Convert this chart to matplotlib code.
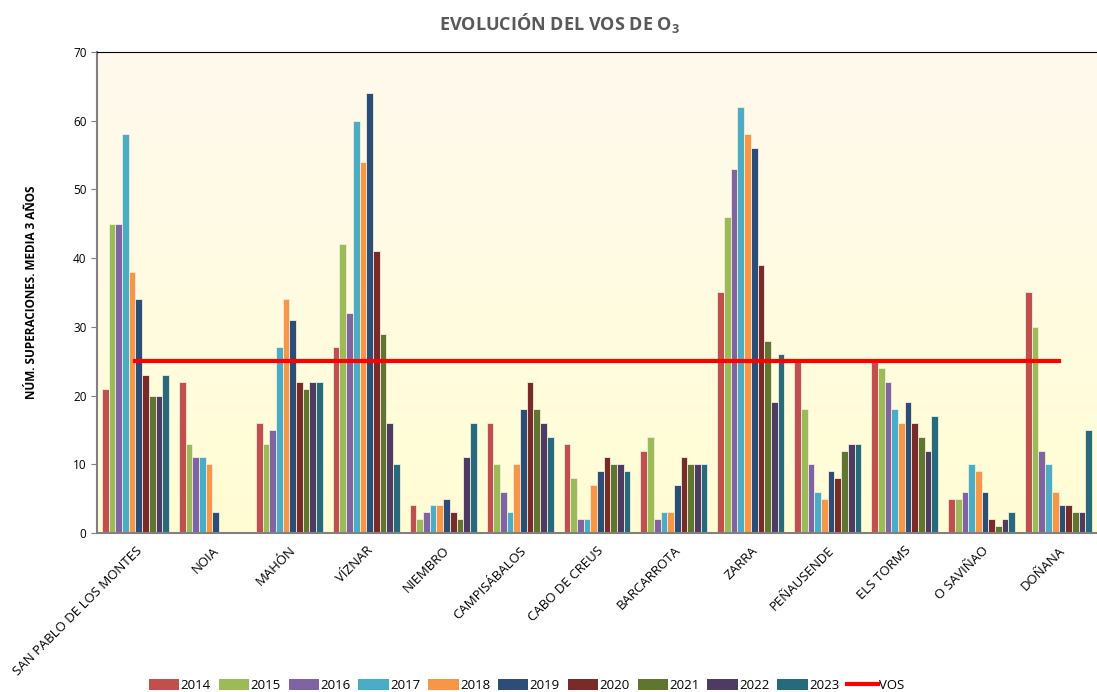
import numpy as np
import matplotlib
matplotlib.use("Agg")
import matplotlib.pyplot as plt
from matplotlib.lines import Line2D
from matplotlib.patches import Patch

plt.rcParams["font.family"] = ["Open Sans", "DejaVu Sans"]
plt.rcParams["mathtext.default"] = "regular"

# ── DATA ──────────────────────────────────────────────────────
stations = ["SAN PABLO DE LOS MONTES", "NOIA", "MAHÓN", "VÍZNAR", "NIEMBRO",
            "CAMPISÁBALOS", "CABO DE CREUS", "BARCARROTA", "ZARRA",
            "PEÑAUSENDE", "ELS TORMS", "O SAVIÑAO", "DOÑANA"]
years = ["2014", "2015", "2016", "2017", "2018",
         "2019", "2020", "2021", "2022", "2023"]

v2014 = [21, 22, 16, 27, 4, 16, 13, 12, 35, 25, 25, 5, 35]
v2015 = [45, 13, 13, 42, 2, 10, 8, 14, 46, 18, 24, 5, 30]
v2016 = [45, 11, 15, 32, 3, 6, 2, 2, 53, 10, 22, 6, 12]
v2017 = [58, 11, 27, 60, 4, 3, 2, 3, 62, 6, 18, 10, 10]
v2018 = [38, 10, 34, 54, 4, 10, 7, 3, 58, 5, 16, 9, 6]
v2019 = [34, 3, 31, 64, 5, 18, 9, 7, 56, 9, 19, 6, 4]
v2020 = [23, 0, 22, 41, 3, 22, 11, 11, 39, 8, 16, 2, 4]
v2021 = [20, 0, 21, 29, 2, 18, 10, 10, 28, 12, 14, 1, 3]
v2022 = [20, 0, 22, 16, 11, 16, 10, 10, 19, 13, 12, 2, 3]
v2023 = [23, 0, 22, 10, 16, 14, 9, 10, 26, 13, 17, 3, 15]
series = [v2014, v2015, v2016, v2017, v2018, v2019, v2020, v2021, v2022, v2023]

vos_limit = 25

colors = ["#C0504D", "#9BBB59", "#8064A2", "#4BACC6", "#F79646",
          "#2C4D75", "#772C2A", "#5F7530", "#4D3B62", "#276A7C"]

# ── CHART ─────────────────────────────────────────────────────
fig = plt.figure(figsize=(10.97, 6.92), dpi=100)
ax = fig.add_axes([0.0884, 0.2298, 0.9116, 0.6951])

# gradient background
grad = np.linspace(0, 1, 256).reshape(-1, 1)
top = np.array([255, 249, 238]) / 255
bottom = np.array([255, 253, 212]) / 255
img = top + (bottom - top) * grad[:, :, None]
ax.imshow(img, extent=[0, 1, 0, 1], transform=ax.transAxes,
          aspect="auto", zorder=0)

x = np.arange(len(stations))
width = 0.087
for i, (vals, col) in enumerate(zip(series, colors)):
    offs = (i - 4.5) * width
    ax.bar(x + offs, vals, width, color=col, edgecolor="#F2EEDC",
           linewidth=0.6, zorder=2)

ax.plot([x[0], x[-1]], [vos_limit, vos_limit], color="#FF0000",
        linewidth=3, zorder=3)

ax.set_xlim(-0.5, len(stations) - 0.5)
ax.set_ylim(0, 70)
ax.set_yticks(range(0, 71, 10))
ax.tick_params(axis="y", labelsize=8.5, length=4, color="#808080")
ax.tick_params(axis="x", length=0, pad=8)
ax.set_xticks(x)
ax.set_xticklabels(stations, rotation=45, ha="right", va="top",
                   rotation_mode="anchor", fontsize=9.5)

for s in ["left", "bottom"]:
    ax.spines[s].set_color("#808080")
    ax.spines[s].set_linewidth(1.5)
ax.spines["top"].set_color("black")
ax.spines["right"].set_visible(False)

ax.set_ylabel("NÚM. SUPERACIONES. MEDIA 3 AÑOS", fontsize=8.5,
              fontweight="bold", labelpad=25)

fig.text(0.51, 0.967, "EVOLUCIÓN DEL VOS DE O$_3$", ha="center",
         va="center", fontsize=13, fontweight="bold", color="#595959")

handles = [Patch(facecolor=c, edgecolor="none") for c in colors]
handles.append(Line2D([0], [0], color="#FF0000", linewidth=3))
labels = years + ["VOS"]
fig.legend(handles, labels, loc="center", bbox_to_anchor=(0.48, 0.01),
           ncol=11, frameon=False, fontsize=9.5, handlelength=2.3,
           handleheight=0.9, handletextpad=0.1, columnspacing=0.6)

plt.savefig("out.png", dpi=100)
